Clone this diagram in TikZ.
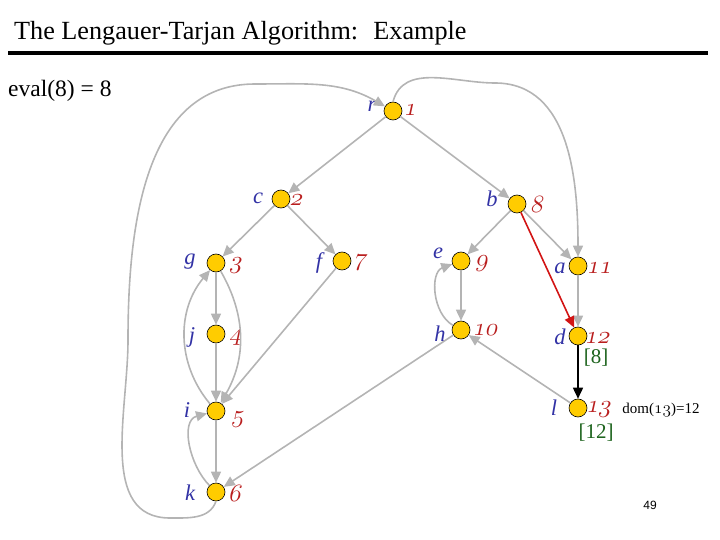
\documentclass[tikz,border=0pt]{standalone}
\usepackage{fontspec}
\setmainfont{Liberation Serif}
\newfontfamily\sansf{Liberation Sans}
\usetikzlibrary{arrows.meta}
\definecolor{nodefill}{RGB}{255,204,0}
\definecolor{edgegray}{RGB}{180,180,180}
\definecolor{lblblue}{RGB}{50,50,165}
\definecolor{numred}{RGB}{185,30,30}
\definecolor{domgreen}{RGB}{30,100,30}
\definecolor{redge}{RGB}{210,20,20}
\newcommand\osf{\fontencoding{OML}\fontfamily{lmm}\fontseries{m}\fontshape{it}\selectfont}
\tikzset{
  vtx/.style={circle, minimum size=18pt, inner sep=0pt, fill=nodefill, draw=black, line width=0.6pt},
  lbl/.style={text=lblblue, font=\fontsize{22.5}{24}\selectfont\itshape, inner sep=0pt},
  numlab/.style={text=numred, font=\fontsize{24}{26}\selectfont\osf, inner sep=0pt, xslant=0.22, transform shape},
  grn/.style={text=domgreen, font=\fontsize{21}{24}\selectfont, inner sep=0pt},
  edge/.style={draw=edgegray, line width=1.6pt, -{Triangle[length=11pt,width=10pt]}},
  redarrow/.style={draw=redge, line width=1.6pt, -{Triangle[length=11pt,width=10pt]}},
  blackarrow/.style={draw=black, line width=1.6pt, -{Triangle[length=11pt,width=10pt]}}
}
% #1 name, #2 x, #3 y, #4 text
\newcommand\numat[4]{\node[numlab, shift={({#2-0.22*(#3)},#3)}] (#1) at (0,0) {#4};}
\begin{document}
\begin{tikzpicture}[x=1pt,y=1pt]
\useasboundingbox (0,0) rectangle (720,-540);
% title
\node[anchor=base west, inner sep=0pt, font=\fontsize{26.2}{28}\selectfont] (title) at (14,-40) {The Lengauer-Tarjan Algorithm:~ Example};
\draw[line width=3.5pt] (8,-53) -- (708,-53);
\node[anchor=base west, inner sep=0pt, font=\fontsize{23.5}{26}\selectfont] (eval) at (8,-97) {eval(8) = 8};
% vertices
\node[vtx] (r) at (393,-111) {};
\node[vtx] (c) at (281,-199) {};
\node[vtx] (b) at (517,-204) {};
\node[vtx] (g) at (216,-263) {};
\node[vtx] (f) at (342,-261) {};
\node[vtx] (e) at (461,-261) {};
\node[vtx] (a) at (578,-266) {};
\node[vtx] (j) at (216,-334) {};
\node[vtx] (h) at (461,-330) {};
\node[vtx] (d) at (578,-336) {};
\node[vtx] (i) at (216,-411) {};
\node[vtx] (l) at (578,-408) {};
\node[vtx] (k) at (216,-492) {};
% letters
\node[lbl] (rl) at (372,-106) {r};
\node[lbl] (cl) at (258,-198) {c};
\node[lbl] (bl) at (492,-199) {b};
\node[lbl] (gl) at (190,-262) {g};
\node[lbl] (fl) at (319,-263) {f};
\node[lbl] (el) at (438,-253) {e};
\node[lbl] (al) at (560,-268) {a};
\node[lbl] (jl) at (192,-337) {j};
\node[lbl] (hl) at (440,-334) {h};
\node[lbl] (dl) at (560,-337) {d};
\node[lbl] (il) at (187,-410) {i};
\node[lbl] (ll) at (554,-408) {l};
\node[lbl] (kl) at (190,-493) {k};
% numbers
\numat{rn}{411}{-110}{1}
\numat{cn}{297}{-200}{2}
\numat{bn}{538}{-204}{8}
\numat{gn}{236}{-266}{3}
\numat{fn}{360}{-263}{7}
\numat{en}{482}{-264}{9}
\numat{an}{600}{-268}{11}
\numat{jn}{236}{-338}{4}
\numat{hn}{486}{-330}{10}
\numat{dn}{598}{-338}{12}
\numat{in}{238}{-420}{5}
\numat{ln}{599}{-410}{13}
\numat{kn}{236}{-493}{6}
% extra labels
\node[grn] (d8) at (596,-358) {[8]};
\node[grn] (l12) at (596,-433) {[12]};
\node[inner sep=0pt, font=\fontsize{15}{17}\selectfont] (dom) at (661,-410) {dom({\osf\fontsize{17}{17}\selectfont 13})=12};
\node[inner sep=0pt, font=\sansf\fontsize{12}{14}\selectfont] (pg) at (650,-505) {49};
% curve helper coordinates
\coordinate (k1) at (170,-518);
\coordinate (k2) at (128,-340);
\coordinate (k3) at (255,-84);
\coordinate (r1) at (495,-83);
% straight edges
\draw[edge] (r) -- (c);
\draw[edge] (r) -- (b);
\draw[edge] (c) -- (g);
\draw[edge] (c) -- (f);
\draw[edge] (g) -- (j);
\draw[edge] (j) -- (i);
\draw[edge] (i) -- (k);
\draw[edge] (f) -- (i);
\draw[edge] (h) -- (k);
\draw[edge] (b) -- (e);
\draw[edge] (b) -- (a);
\draw[edge] (e) -- (h);
\draw[edge] (a) -- (d);
\draw[edge] (l) -- (h);
% curved edges
\draw[edge] (g) to[out=-60,in=60] (i);
\draw[edge] (i) to[out=130,in=-130] (g);
\draw[edge] (k) to[out=135,in=195] (i);
\draw[edge] (h) to[out=150,in=200] (e);
\draw[edge] (k.south) to[out=-110,in=0] (k1) to[out=180,in=-90] (k2) to[out=90,in=180] (k3) to[out=0,in=150] (r);
\draw[edge] (r.north) to[out=75,in=180] (r1) to[out=0,in=90] (a);
% highlighted edges
\draw[redarrow] (b) -- (d);
\draw[blackarrow] (d) -- (l);
\end{tikzpicture}
\end{document}
